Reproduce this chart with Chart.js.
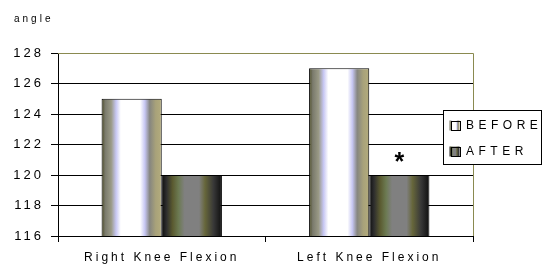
<!DOCTYPE html>
<html>
<head>
<meta charset="utf-8">
<script src="https://cdn.jsdelivr.net/npm/chart.js@4/dist/chart.umd.min.js"></script>
<style>
  body { margin: 0; background: #fff; }
  #wrap { width: 543px; height: 265px; position: relative; }
</style>
</head>
<body>
<div id="wrap"><canvas id="kneeChart"></canvas></div>
<script>
// categories and series
const categories = ['Right Knee Flexion', 'Left Knee Flexion'];
const beforeValues = [125, 127];
const afterValues = [120, 120];
const seriesNames = ['BEFORE', 'AFTER'];
const yTicks = [116, 118, 120, 122, 124, 126, 128];
const starMark = { category: 1, series: 1, value: 121.3 };

const FONT = '"Liberation Sans", Arial, sans-serif';

// cylinder-ish stripes for each series
const beforeStops = [
  [0, '#4a4a22'], [0.06, '#7a7a6c'], [0.16, '#9a9a86'], [0.24, '#c6c6f2'],
  [0.32, '#ffffff'], [0.64, '#ffffff'], [0.72, '#c6c6f2'], [0.8, '#868680'],
  [0.9, '#a8a27a'], [1, '#b4ac7c']
];
const afterStops = [
  [0, '#0e0e0e'], [0.08, '#2e2e2e'], [0.18, '#5a5a30'], [0.28, '#6c7a52'],
  [0.38, '#808080'], [0.62, '#808080'], [0.72, '#66663a'], [0.86, '#383838'],
  [1, '#0e0e0e']
];

function makeGradient(ctx, x0, x1, stops) {
  const g = ctx.createLinearGradient(x0, 0, x1, 0);
  stops.forEach(s => g.addColorStop(s[0], s[1]));
  return g;
}

const extras = {
  id: 'extras',
  beforeDraw(chart) {
    chart.ctx.letterSpacing = '3px';
  },
  beforeDatasetsDraw(chart) {
    const ctx = chart.ctx;
    const area = chart.chartArea;
    // olive frame on top and right
    ctx.save();
    ctx.strokeStyle = '#8a8a50';
    ctx.lineWidth = 1;
    ctx.beginPath();
    ctx.moveTo(area.left, area.top + 0.5);
    ctx.lineTo(area.right + 0.5, area.top + 0.5);
    ctx.lineTo(area.right + 0.5, area.bottom);
    ctx.stroke();
    ctx.restore();
    // gradients on bars
    [beforeStops, afterStops].forEach((stops, di) => {
      chart.getDatasetMeta(di).data.forEach(bar => {
        const x0 = bar.x - bar.width / 2;
        bar.options.backgroundColor = makeGradient(ctx, x0, x0 + bar.width, stops);
      });
    });
  },
  afterDatasetsDraw(chart) {
    const ctx = chart.ctx;
    const bar = chart.getDatasetMeta(starMark.series).data[starMark.category];
    const y = chart.scales.y.getPixelForValue(starMark.value);
    ctx.save();
    ctx.letterSpacing = '0px';
    ctx.fillStyle = '#000';
    ctx.font = 'bold 25px ' + FONT;
    ctx.textAlign = 'center';
    ctx.textBaseline = 'middle';
    ctx.fillText('*', bar.x, y + 8);
    ctx.restore();
  },
  afterDraw(chart) {
    const ctx = chart.ctx;
    ctx.save();
    // axis title
    ctx.letterSpacing = '3px';
    ctx.fillStyle = '#000';
    ctx.font = '10px ' + FONT;
    ctx.textBaseline = 'middle';
    ctx.textAlign = 'left';
    ctx.fillText('angle', 14, 19);
    // legend box
    ctx.fillStyle = '#fff';
    ctx.fillRect(443.5, 110.5, 98, 54);
    ctx.strokeStyle = '#000';
    ctx.lineWidth = 1;
    ctx.strokeRect(443.5, 110.5, 98, 54);
    ctx.font = '12px ' + FONT;
    ctx.letterSpacing = '4.5px';
    [beforeStops, afterStops].forEach((stops, i) => {
      const y = 126 + i * 26;
      ctx.fillStyle = makeGradient(ctx, 449, 460, stops);
      ctx.fillRect(449.5, y - 5.5, 10, 10);
      ctx.strokeStyle = '#000';
      ctx.strokeRect(451.5, y - 4.5, 9, 9);
      ctx.fillStyle = '#000';
      ctx.fillText(seriesNames[i], 466, y);
    });
    ctx.restore();
  }
};

// scriptable colour so each bar gets its own options object
const barColor = () => '#888888';

new Chart(document.getElementById('kneeChart'), {
  type: 'bar',
  data: {
    labels: categories,
    datasets: [
      { label: seriesNames[0], data: beforeValues, backgroundColor: barColor, borderColor: '#000', borderWidth: 1, borderSkipped: false },
      { label: seriesNames[1], data: afterValues, backgroundColor: barColor, borderColor: '#000', borderWidth: 1, borderSkipped: false }
    ]
  },
  options: {
    responsive: true,
    maintainAspectRatio: false,
    animation: false,
    events: [],
    layout: { padding: { top: 53, right: 70, left: 0, bottom: 0 } },
    datasets: { bar: { categoryPercentage: 0.58, barPercentage: 1 } },
    plugins: { legend: { display: false }, tooltip: { enabled: false }, title: { display: false } },
    scales: {
      x: {
        afterFit(s) { s.height = 29; },
        grid: { offset: true, drawOnChartArea: false, color: '#000', tickLength: 6 },
        border: { color: '#000' },
        ticks: { color: '#000', font: { family: FONT, size: 12 }, padding: 8, maxRotation: 0 }
      },
      y: {
        min: 116,
        max: 128,
        afterFit(s) { s.width = 58; },
        afterBuildTicks(s) { s.ticks = yTicks.map(v => ({ value: v })); },
        grid: {
          color: c => (c.tick && c.tick.value === 128 ? '#8a8a50' : '#000'),
          tickColor: '#000',
          tickLength: 7
        },
        border: { color: '#000' },
        ticks: { color: '#000', font: { family: FONT, size: 13 }, padding: 7 }
      }
    }
  },
  plugins: [extras]
});
</script>
</body>
</html>
